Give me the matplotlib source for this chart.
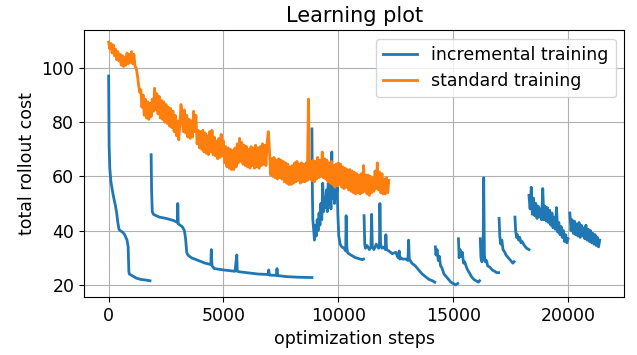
"""Learning plot: incremental vs standard training (rollout cost over optimization steps)."""
import numpy as np
import matplotlib

matplotlib.use("Agg")
import matplotlib.pyplot as plt  # noqa: E402

plt.rcParams["font.size"] = 12.5

# standard training: one value every 50 steps, 0 .. 12200
std_steps = np.arange(0, 12250, 50)
std_cost = [
    109.5, 107.0, 109.0, 105.5, 108.5, 104.5, 107.0, 103.0, 106.0, 102.5,
    105.0, 101.0, 104.5, 100.5, 104.0, 101.0, 105.5, 101.5, 105.0, 102.0,
    106.0, 101.5, 105.0, 100.5, 100.0, 97.5, 94.0, 91.0, 92.0, 85.5,
    90.0, 82.5, 88.5, 81.5, 87.5, 81.0, 87.0, 82.0, 88.5, 84.0,
    92.5, 84.5, 90.5, 83.0, 89.5, 81.5, 88.0, 81.0, 87.5, 80.0,
    86.5, 79.5, 85.5, 78.5, 85.0, 78.0, 84.0, 76.5, 82.5, 75.0,
    80.5, 73.5, 79.0, 86.5, 82.5, 76.5, 84.5, 76.0, 82.5, 74.5,
    81.0, 74.0, 80.5, 74.5, 84.0, 76.5, 82.5, 72.0, 77.0, 70.5,
    76.5, 70.0, 77.0, 69.0, 76.0, 68.5, 75.0, 68.0, 76.5, 69.0,
    77.0, 68.0, 74.5, 67.5, 73.0, 66.5, 74.0, 67.0, 75.5, 67.5,
    73.0, 65.0, 71.0, 63.5, 70.5, 63.0, 70.0, 62.5, 69.5, 62.5,
    70.5, 63.5, 72.0, 65.0, 74.0, 65.5, 72.5, 64.5, 71.5, 64.0,
    71.0, 63.5, 70.0, 63.0, 71.0, 64.0, 70.5, 63.0, 71.5, 63.5,
    70.5, 63.0, 71.0, 64.0, 72.0, 64.5, 71.5, 64.0, 72.5, 76.5,
    70.0, 60.5, 66.5, 60.0, 67.0, 59.5, 66.0, 59.0, 66.5, 59.5,
    66.0, 59.0, 65.5, 58.0, 65.0, 57.5, 64.5, 57.0, 63.5, 57.0,
    64.0, 57.5, 65.0, 58.0, 65.5, 58.5, 64.5, 57.5, 65.0, 58.0,
    64.5, 58.0, 65.0, 58.5, 88.5, 59.0, 65.5, 58.5, 66.0, 58.0,
    65.5, 59.0, 67.0, 59.5, 66.0, 60.0, 69.0, 59.5, 66.5, 59.0,
    66.0, 58.0, 65.0, 57.5, 65.5, 57.0, 64.0, 56.0, 64.5, 56.5,
    65.0, 57.0, 64.5, 56.0, 63.5, 55.5, 63.0, 56.0, 62.5, 55.0,
    62.5, 54.5, 62.0, 54.0, 61.5, 53.5, 61.0, 54.0, 60.5, 53.5,
    61.0, 54.0, 64.0, 54.5, 60.5, 53.5, 60.5, 53.0, 60.0, 54.0,
    59.5, 54.5, 62.0, 55.5, 65.0, 55.0, 61.5, 54.0, 61.0, 53.5,
    59.0, 53.5, 59.5, 54.0, 58.5,
]

# incremental training: restarts every time the task grows -> separate pieces
inc_x1 = [0, 20, 50, 100, 200, 300, 350, 400, 450, 500, 600, 700, 800, 850, 880,
          900, 1000, 1200, 1400, 1600, 1800]
inc_y1 = [97, 72, 63, 58, 53, 49, 46.5, 43, 40.5, 40, 39.5, 38.5, 36.5, 34, 25,
          24, 23.5, 22.5, 22, 21.8, 21.5]

inc_x2 = [1850, 1870, 1900, 1950, 2200, 2500, 2800, 3000, 3010, 3030, 3200, 3300,
          3350, 3400, 3450, 3600, 3900, 4200, 4450, 4470, 4500, 4600, 5000, 5500,
          5580, 5600, 5700, 6000, 6500, 6950, 6970, 7000, 7300, 7330, 7360, 7800,
          8300, 8850]
inc_y2 = [68, 55, 47, 46, 45, 44.5, 43.8, 43, 50, 42.5, 41.5, 40,
          37, 32, 31, 30, 29, 28, 27.5, 33, 27, 26, 25.5, 25,
          31, 25, 24.8, 24.5, 24, 23.8, 25.5, 23.6, 23.5, 26, 23.4, 23,
          22.8, 22.7]

inc_x3 = [8850, 8870, 8890, 8930, 8960, 9000, 9040, 9080, 9120, 9160, 9200, 9240,
          9280, 9320, 9360, 9400, 9440, 9480, 9520, 9560, 9600, 9640, 9680, 9715,
          9750, 9790, 9830, 9870, 9910, 9950, 9980, 10020, 10080, 10150, 10250,
          10320, 10340, 10370, 10400, 10450, 10550, 10650, 10750, 10850, 10950,
          11050, 11100]
inc_y3 = [77.5, 55, 44, 40, 36.5, 42, 38, 44, 40, 46.5, 42, 50,
          44, 57.5, 47, 52, 48.5, 55, 47, 57.5, 50, 55, 48, 69,
          52, 58, 50, 59, 52, 56, 46, 38, 35, 34, 33.5,
          32.5, 45.5, 34, 32, 31.5, 31, 30.5, 30, 29.8, 29.5,
          29.3, 29.5]

inc_x4 = [11120, 11150, 11180, 11250, 11350, 11420, 11450, 11480, 11550, 11650,
          11750, 11790, 11810, 11840, 11900, 12000, 12050, 12070, 12100, 12200,
          12350, 12500, 12600, 12650, 12680, 12720, 12800, 12950, 13030, 13060,
          13090, 13200, 13350, 13500, 13650, 13800, 13950, 14100, 14200]
inc_y4 = [45.5, 35, 33.5, 34.5, 33, 34, 46, 34, 33, 35,
          33.5, 34, 50, 35, 33.5, 34, 33, 38.5, 33, 32.5,
          31.5, 32, 30, 32.5, 29.5, 30, 29.5, 29.5, 29, 36.5,
          29.5, 28, 27, 25.5, 24, 23, 22, 21.5, 21]

inc_x5 = [14225, 14250, 14300, 14350, 14400, 14450, 14500, 14600, 14700, 14800,
          14900, 15000, 15100, 15200]
inc_y5 = [34, 31, 33, 29, 30.5, 27, 26.5, 24, 23, 22, 21, 20.5, 20, 20.5]

inc_x6 = [15230, 15260, 15300, 15350, 15400, 15450, 15500, 15600, 15700, 15800,
          15900, 16000, 16100, 16150]
inc_y6 = [37, 30, 33, 30.5, 32, 28, 28.5, 26, 24.5, 23, 22, 21.5, 21, 21.5]

inc_x7 = [16180, 16210, 16250, 16300, 16330, 16360, 16400, 16450, 16500, 16600,
          16700, 16800, 16900, 16980]
inc_y7 = [37, 30, 28.5, 30, 59.5, 31, 28.5, 29, 27, 26.5, 25.5, 25, 24.5, 24.5]

inc_x8 = [17000, 17030, 17070, 17120, 17170, 17250, 17300, 17400, 17500, 17600, 17650]
inc_y8 = [44.5, 38, 35, 36.5, 33, 32, 31, 30, 29, 28, 28.5]

inc_x9 = [17690, 17720, 17760, 17800, 17850, 17900, 17950, 18000, 18100, 18200, 18300]
inc_y9 = [45, 40, 37.5, 38.5, 36.5, 37.5, 35.5, 36, 34.5, 33.5, 33]

inc_x10 = list(range(18300, 20050, 50))
inc_y10 = [53, 48, 56, 46, 52, 45.5, 50, 44.5, 49, 45, 48, 44, 55.5, 44, 49, 43.5,
           48.5, 43, 47.5, 42, 46.5, 41, 45, 40.5, 48.5, 39.5, 43, 38.5, 41.5, 37.5,
           40, 36, 38.5, 35.5, 37]

inc_x11 = list(range(20080, 21400, 50))
inc_y11 = [46.5, 40, 44, 39, 43.5, 38.5, 42.5, 38, 43, 37.5, 42, 38, 41, 37, 42,
           36.5, 40.5, 36, 40, 35.5, 39, 35, 38.5, 34.5, 37.5, 34, 36.5]

inc_pieces = [
    (inc_x1, inc_y1), (inc_x2, inc_y2), (inc_x3, inc_y3), (inc_x4, inc_y4),
    (inc_x5, inc_y5), (inc_x6, inc_y6), (inc_x7, inc_y7), (inc_x8, inc_y8),
    (inc_x9, inc_y9), (inc_x10, inc_y10), (inc_x11, inc_y11),
]


def joined(pieces):
    # NaN between pieces so one Line2D (one legend entry) shows the gaps
    xs, ys = [], []
    for px, py in pieces:
        if xs:
            xs.append(np.nan)
            ys.append(np.nan)
        xs.extend(px)
        ys.extend(py)
    return np.array(xs, dtype=float), np.array(ys, dtype=float)


inc_steps, inc_cost = joined(inc_pieces)

fig = plt.figure(figsize=(6.37, 3.55), dpi=100)
ax = fig.add_subplot(111)
fig.subplots_adjust(left=0.132, right=0.980, top=0.9155, bottom=0.1634)

ax.plot(inc_steps, inc_cost, lw=2.0, label="incremental training")
ax.plot(std_steps, std_cost, lw=2.0, label="standard training")

ax.set_title("Learning plot")
ax.set_xlabel("optimization steps")
ax.set_ylabel("total rollout cost")
ax.set_yticks([20, 40, 60, 80, 100])
ax.grid(True)
ax.legend(loc="upper right")

fig.savefig("out.png", dpi=100)
